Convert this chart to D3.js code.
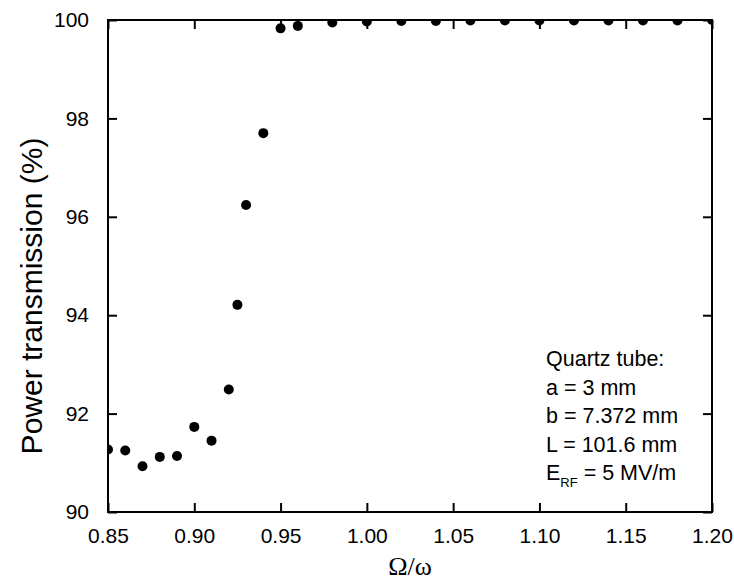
<!DOCTYPE html>
<html>
<head>
<meta charset="utf-8">
<script src="https://cdn.jsdelivr.net/npm/d3@7/dist/d3.min.js"></script>
<style>
  html, body { margin: 0; padding: 0; background: #fff; }
  svg { display: block; }
  text { font-family: "Liberation Sans", Arial, sans-serif; fill: #000; }
</style>
</head>
<body>
<svg id="chart" width="734" height="583"></svg>
<script>
// Frequency ratio Ω/ω and measured power transmission (%)
const freqRatio = [0.85, 0.86, 0.87, 0.88, 0.89, 0.90, 0.91, 0.92, 0.925, 0.93, 0.94,
  0.95, 0.96, 0.98, 1.00, 1.02, 1.04, 1.06, 1.08, 1.10, 1.12, 1.14, 1.16, 1.18, 1.20];
const transmission = [91.27, 91.25, 90.93, 91.12, 91.14, 91.73, 91.45, 92.49, 94.21, 96.24, 97.70,
  99.83, 99.88, 99.95, 99.97, 99.98, 99.98, 99.99, 99.99, 99.99, 99.99, 99.99, 99.99, 99.99, 100.00];

const xTicks = [0.85, 0.90, 0.95, 1.00, 1.05, 1.10, 1.15, 1.20];
const yTicks = [90, 92, 94, 96, 98, 100];
const legendLines = ["Quartz tube:", "a = 3 mm", "b = 7.372 mm", "L = 101.6 mm"];

const svg = d3.select("#chart");
const plotL = 108, plotR = 712, plotT = 20, plotB = 512;

const x = d3.scaleLinear().domain([0.85, 1.20]).range([plotL, plotR]);
const y = d3.scaleLinear().domain([90, 100]).range([plotB, plotT]);

// clip markers to the plotting frame
svg.append("defs").append("clipPath").attr("id", "plotClip")
  .append("rect").attr("x", plotL).attr("y", plotT)
  .attr("width", plotR - plotL).attr("height", plotB - plotT);

svg.append("g").attr("clip-path", "url(#plotClip)")
  .selectAll("circle")
  .data(freqRatio.map((f, i) => [f, transmission[i]]))
  .join("circle")
  .attr("cx", d => x(d[0]))
  .attr("cy", d => y(d[1]))
  .attr("r", 5)
  .attr("fill", "#000");

const tickLen = 9;
function styleAxis(g) {
  g.select(".domain").remove();
  g.selectAll(".tick line").attr("stroke", "#000").attr("stroke-width", 2);
}

// bottom axis with labels
const gx = svg.append("g").attr("transform", `translate(0,${plotB})`)
  .call(d3.axisBottom(x).tickValues(xTicks).tickFormat(d3.format(".2f"))
    .tickSizeInner(-tickLen).tickSizeOuter(0).tickPadding(16));
styleAxis(gx);
gx.selectAll(".tick text").attr("font-size", 21).attr("font-family", "Liberation Sans, Arial, sans-serif");

// top axis, ticks only
const gxt = svg.append("g").attr("transform", `translate(0,${plotT})`)
  .call(d3.axisTop(x).tickValues(xTicks).tickFormat("").tickSizeInner(-tickLen).tickSizeOuter(0));
styleAxis(gxt);

// left axis with labels
const gy = svg.append("g").attr("transform", `translate(${plotL},0)`)
  .call(d3.axisLeft(y).tickValues(yTicks).tickFormat(d3.format("d"))
    .tickSizeInner(-tickLen).tickSizeOuter(0).tickPadding(19));
styleAxis(gy);
gy.selectAll(".tick text").attr("font-size", 21).attr("font-family", "Liberation Sans, Arial, sans-serif");

// right axis, ticks only
const gyr = svg.append("g").attr("transform", `translate(${plotR},0)`)
  .call(d3.axisRight(y).tickValues(yTicks).tickFormat("").tickSizeInner(-tickLen).tickSizeOuter(0));
styleAxis(gyr);

// frame
svg.append("rect").attr("x", plotL).attr("y", plotT)
  .attr("width", plotR - plotL).attr("height", plotB - plotT)
  .attr("fill", "none").attr("stroke", "#000").attr("stroke-width", 2);

// axis titles
svg.append("text")
  .attr("transform", `translate(42,${(plotT + plotB) / 2 + 30}) rotate(-90)`)
  .attr("text-anchor", "middle")
  .attr("font-size", 30)
  .text("Power transmission (%)");

svg.append("text")
  .attr("x", (plotL + plotR) / 2).attr("y", 575)
  .attr("text-anchor", "middle")
  .style("font-family", "'Liberation Serif', 'Times New Roman', serif")
  .attr("font-size", 26)
  .text("Ω/ω");

// parameter annotation
const note = svg.append("g");
legendLines.forEach((t, i) => {
  note.append("text").attr("x", 546).attr("y", 366 + 28.5 * i)
    .attr("font-size", 21.5).text(t);
});
const eLine = note.append("text").attr("x", 546).attr("y", 366 + 28.5 * 4).attr("font-size", 21.5);
eLine.append("tspan").text("E");
eLine.append("tspan").attr("font-size", 13).attr("dy", 7).text("RF");
eLine.append("tspan").attr("dy", -7).text(" = 5 MV/m");
</script>
</body>
</html>
